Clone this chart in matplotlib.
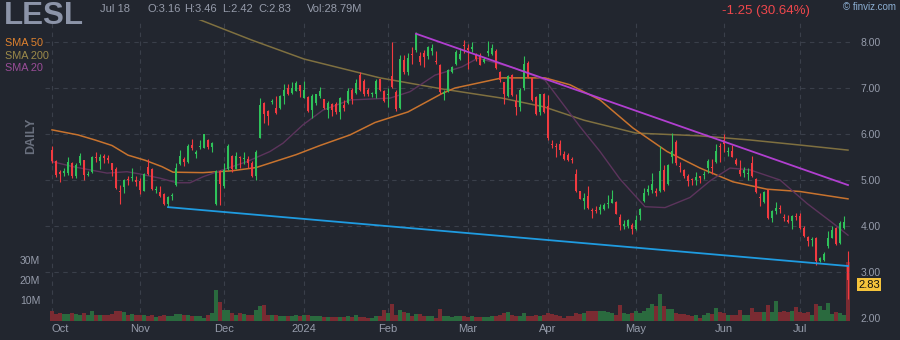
import matplotlib
matplotlib.use('Agg')
import matplotlib.pyplot as plt
import numpy as np
from matplotlib.transforms import blended_transform_factory

plt.rcParams['font.family'] = ['Liberation Sans', 'DejaVu Sans']

opens = [
5.66,5.41,5.18,5.15,5.16,5.38,5.09,5.38,5.43,5.11,
5.17,5.50,5.41,5.53,5.48,5.36,5.23,4.76,4.84,5.03,
5.04,5.01,4.98,4.77,5.29,5.23,4.78,4.74,4.69,4.48,
4.65,4.90,5.35,5.45,5.39,5.76,5.56,5.72,5.70,5.87,
5.72,4.48,5.20,4.86,5.24,5.52,5.24,5.50,5.45,5.46,
5.37,5.09,5.92,6.68,6.50,6.70,6.56,6.57,6.82,6.99,
6.90,6.94,7.06,6.79,6.81,6.52,6.68,6.83,6.76,6.52,
6.66,6.66,6.48,6.64,6.68,6.96,6.89,7.29,7.16,6.96,
6.86,6.86,7.19,6.94,6.84,7.26,6.91,6.57,7.60,7.35,
7.73,7.82,7.69,7.77,7.69,7.80,7.59,7.51,6.86,6.93,
7.35,7.53,7.62,7.94,7.87,7.84,7.72,7.71,7.57,7.77,
7.75,7.80,7.35,7.12,6.83,7.29,6.71,6.59,6.99,7.55,
7.22,6.80,6.48,6.87,6.60,5.79,5.74,5.78,5.56,5.55,
5.45,5.12,4.76,4.54,4.65,4.34,4.35,4.35,4.37,4.48,
4.50,4.53,4.20,4.01,4.01,4.02,3.93,4.25,4.54,4.73,
4.79,4.75,4.76,5.21,4.92,5.50,5.83,5.31,5.21,5.08,
5.01,5.01,5.08,5.11,5.26,5.28,5.39,5.73,5.86,5.61,
5.64,5.43,5.21,5.16,5.12,5.38,5.03,4.62,4.52,4.78,
4.17,4.32,4.40,4.19,4.14,4.10,4.21,4.21,3.96,3.76,
3.69,3.74,3.25,3.26,3.56,3.74,3.96,3.63,3.96,3.16]

closes = [
5.42,5.10,5.14,5.19,5.40,5.09,5.33,5.52,5.10,5.13,
5.50,5.48,5.50,5.48,5.43,5.22,4.83,4.73,4.99,5.00,
5.07,4.96,4.78,5.12,5.13,4.81,4.80,4.65,4.48,4.64,
4.68,5.26,5.52,5.39,5.74,5.69,5.61,5.74,5.99,5.72,
5.80,5.20,4.92,5.22,5.75,5.24,5.52,5.47,5.48,5.37,
5.09,5.60,6.64,6.43,6.39,6.71,6.45,6.82,6.95,6.88,
6.99,7.11,6.93,6.96,6.50,6.83,6.86,6.94,6.56,6.68,
6.52,6.48,6.78,6.56,6.94,6.77,7.11,6.96,6.86,6.86,
6.88,7.16,6.96,6.71,6.86,7.02,6.55,7.62,7.35,7.65,
7.72,8.18,7.57,7.67,7.89,7.87,7.57,6.91,6.91,7.40,
7.46,7.78,7.75,7.92,7.82,7.89,7.62,7.51,7.62,7.79,
7.86,7.43,7.17,6.86,7.26,6.84,6.59,6.96,7.53,7.24,
6.73,6.44,6.86,6.48,5.92,5.76,5.72,5.65,5.46,5.44,
5.43,4.76,4.59,4.61,4.40,4.32,4.33,4.42,4.46,4.50,
4.59,4.27,4.02,4.03,4.14,3.94,4.13,4.37,4.72,4.81,
4.92,4.72,5.19,4.78,5.33,5.62,5.38,5.28,5.08,4.97,
4.99,5.06,5.04,5.13,5.42,5.26,5.64,5.71,5.78,5.63,
5.51,5.34,5.12,5.21,5.14,5.09,4.75,4.60,4.73,4.17,
4.33,4.40,4.37,4.17,4.09,4.21,4.19,3.96,3.78,3.67,
3.71,3.24,3.30,3.40,3.74,3.92,3.60,4.06,4.09,2.83]

highs = [
5.74,5.43,5.22,5.26,5.50,5.40,5.36,5.59,5.43,5.20,
5.52,5.61,5.56,5.57,5.55,5.38,5.29,4.90,5.02,5.09,
5.27,5.08,5.04,5.15,5.45,5.25,4.86,4.86,4.72,4.65,
4.72,5.36,5.66,5.50,5.79,5.89,5.65,5.87,6.00,5.90,
5.82,5.22,5.22,5.38,5.78,5.54,5.60,5.53,5.60,5.52,
5.42,5.65,6.78,6.70,6.52,6.76,6.82,6.84,7.09,7.09,
7.13,7.15,7.07,7.16,6.82,6.86,6.88,7.02,6.77,6.71,
6.68,6.70,6.81,6.73,6.99,6.99,7.20,7.34,7.20,7.00,
6.91,7.19,7.20,6.95,6.99,7.99,6.95,7.72,7.71,7.76,
7.89,8.22,7.78,7.82,7.91,7.96,7.80,7.52,6.96,7.42,
7.48,7.82,7.86,8.04,7.96,8.00,7.76,7.75,7.67,8.02,
7.96,7.84,7.36,7.13,7.29,7.31,6.88,6.99,7.70,7.58,
7.24,6.82,6.88,6.90,6.85,5.87,5.80,5.86,5.64,5.58,
5.51,5.24,4.77,4.72,4.86,4.40,4.43,4.47,4.50,4.68,
4.78,4.54,4.25,4.14,4.16,4.07,4.23,4.40,4.83,4.90,
5.15,4.83,5.73,5.33,5.35,6.03,5.87,5.40,5.24,5.12,
5.04,5.17,5.09,5.19,5.45,5.45,5.78,5.81,6.00,5.71,
5.75,5.48,5.43,5.28,5.25,5.53,5.05,4.71,4.75,4.80,
4.35,4.52,4.46,4.27,4.24,4.24,4.28,4.28,3.99,3.78,
3.76,3.76,3.33,3.43,3.89,4.01,3.97,4.10,4.22,3.46]

lows = [
5.36,5.06,4.95,5.08,5.11,5.04,5.04,5.33,5.01,5.08,
5.15,5.40,5.23,5.36,5.36,5.08,4.81,4.48,4.71,4.90,
4.97,4.87,4.69,4.75,5.11,4.79,4.72,4.63,4.45,4.41,
4.57,4.88,5.33,5.30,5.38,5.66,5.47,5.68,5.69,5.68,
5.61,4.46,4.45,4.82,5.21,5.18,5.23,5.27,5.35,5.27,
5.07,4.99,5.91,6.23,6.20,6.65,6.43,6.54,6.66,6.84,
6.88,6.93,6.81,6.78,6.48,6.35,6.64,6.78,6.54,6.34,
6.40,6.43,6.33,6.50,6.66,6.66,6.86,6.94,6.83,6.83,
6.81,6.78,6.93,6.70,6.59,7.01,6.51,6.55,7.31,7.28,
7.53,7.78,7.49,7.46,7.62,7.71,7.53,6.86,6.73,6.91,
7.33,7.51,7.60,7.77,7.41,7.78,7.58,7.49,7.54,7.70,
7.71,7.42,7.13,6.66,6.81,6.83,6.42,6.51,6.95,7.22,
6.71,6.42,6.41,6.45,5.88,5.69,5.51,5.55,5.44,5.41,
5.37,4.73,4.58,4.38,4.37,4.18,4.29,4.25,4.35,4.40,
4.49,4.25,3.91,3.94,3.96,3.82,3.91,4.13,4.52,4.68,
4.72,4.65,4.74,4.76,4.90,5.37,5.33,5.17,5.04,4.88,
4.89,4.90,4.94,5.02,5.15,5.14,5.37,5.40,5.61,5.52,
5.50,5.32,5.09,5.07,5.00,5.07,4.71,4.44,4.49,4.16,
4.09,4.26,4.28,4.10,4.06,3.94,4.14,3.94,3.76,3.56,
3.56,3.15,3.22,3.23,3.53,3.73,3.58,3.60,3.94,2.42]

volumes = [
4.7,3.5,4.0,3.2,3.5,4.0,3.5,2.7,4.0,2.8,
4.7,2.8,3.0,2.8,2.7,3.5,4.7,5.0,4.5,3.0,
3.2,3.0,3.0,3.0,2.5,3.0,1.8,2.2,3.0,2.5,
2.5,3.5,3.5,2.7,3.0,2.5,2.5,2.5,1.3,3.0,
4.0,15.0,9.3,5.5,5.5,3.8,3.0,3.8,3.3,3.0,
3.0,5.2,7.5,8.0,3.0,3.0,2.8,2.5,2.2,2.5,
2.5,2.8,2.5,2.8,2.8,2.5,2.2,2.2,2.0,2.0,
2.0,2.0,2.0,2.0,2.2,2.0,2.8,2.0,2.0,1.7,
1.3,2.5,2.5,5.5,3.8,8.5,3.0,5.5,4.3,3.8,
2.5,3.5,3.3,2.5,2.2,2.5,1.7,6.0,2.5,2.2,
1.8,2.5,2.2,2.5,1.8,2.5,1.8,1.8,1.8,1.8,
2.2,2.5,3.0,3.8,4.3,3.0,2.5,2.5,3.8,2.5,
2.5,3.0,2.5,3.0,3.8,3.3,2.7,2.2,1.7,2.2,
2.2,3.8,3.3,3.8,5.0,4.7,4.7,4.7,4.7,4.3,
3.8,2.7,8.0,3.8,3.3,3.8,5.0,3.8,4.7,6.3,
8.3,7.2,13.3,7.2,6.0,6.0,3.8,3.3,3.3,2.7,
2.2,3.0,1.7,3.0,3.8,3.3,6.3,4.3,3.8,3.0,
3.0,3.0,5.5,3.0,3.0,6.3,4.2,4.2,4.2,8.0,
4.2,10.0,4.2,4.7,4.2,4.7,6.8,4.2,3.8,4.2,
3.0,8.5,7.2,5.5,8.8,3.5,4.5,3.8,3.0,28.79]

month_idx = [0, 22, 43, 63, 84, 104, 124, 146, 168, 187]
month_labels = ['Oct', 'Nov', 'Dec', '2024', 'Feb', 'Mar', 'Apr', 'May', 'Jun', 'Jul']
price_ticks = [2, 3, 4, 5, 6, 7, 8]
vol_ticks = [10, 20, 30]
vol_tick_labels = ['10M', '20M', '30M']

sma20_idx = [0, 5.25, 13.75, 18.75, 22, 27, 31.25, 34.5, 37.75, 42, 48.75, 54.5, 57.75, 62.75,
             67.75, 74.5, 84.5, 89.5, 95.75, 102.5, 106.5, 115.75, 123.25, 132, 137, 142,
             148.25, 153.25, 159.5, 164.5, 169.5, 174.5, 182, 188.75, 195.25, 199]
sma20_val = [5.40, 5.29, 5.15, 5.18, 5.13, 5.04, 4.94, 4.94, 5.07, 5.20, 5.40, 5.62, 5.80, 6.20,
             6.52, 6.74, 6.78, 6.92, 7.28, 7.46, 7.65, 7.43, 7.17, 6.16, 5.62, 5.02,
             4.42, 4.40, 4.62, 4.98, 5.26, 5.22, 5.00, 4.49, 4.06, 3.80]

sma50_idx = [0, 6.5, 10.75, 15, 19, 23.25, 27.5, 30.25, 37.75, 45, 51, 61, 67, 74.5, 80.75, 89,
             97.5, 100.75, 108.25, 112.5, 123.25, 129.5, 137, 145.25, 153.75, 162, 170.25,
             178.75, 187, 199]
sma50_val = [6.09, 5.98, 5.87, 5.75, 5.54, 5.43, 5.29, 5.17, 5.16, 5.20, 5.27, 5.55, 5.75, 5.98,
             6.25, 6.48, 6.88, 7.00, 7.14, 7.22, 7.22, 7.07, 6.74, 6.13, 5.62, 5.26, 4.96,
             4.80, 4.75, 4.59]

sma200_idx = [35, 50, 63, 82, 97.5, 112.5, 123, 133, 146, 162, 174.5, 187, 199]
sma200_val = [8.55, 8.04, 7.63, 7.22, 6.98, 6.78, 6.59, 6.30, 6.02, 5.96, 5.87, 5.76, 5.65]

support_idx = [29, 199]
support_val = [4.41, 3.13]
resist_idx = [91, 199]
resist_val = [8.18, 4.89]

last_price = 2.83

# ---------- style ----------
BG = '#22262f'
GRID = '#3a3f4a'
TXT = '#969cab'
UP = '#2fc25a'
DOWN = '#f23a40'
VUP = '#2a6a3e'
VDOWN = '#7a2b32'

W, H = 900, 340
fig = plt.figure(figsize=(W / 100, H / 100), dpi=100, facecolor=BG)

L, R, T, B = 45, 852, 20, 321
rect = [L / W, 1 - B / H, (R - L) / W, (B - T) / H]
xmin = -1.75
xmax = xmin + (R - L) / 4.0
ymax_p = 8 + (42 - T) / 46.0
ymin_p = 8 - (B - 42) / 46.0

# volume axes (background)
axv = fig.add_axes(rect, facecolor=BG)
axv.set_zorder(0)
n = len(closes)
x = np.arange(n)
O = np.array(opens); C = np.array(closes); Hh = np.array(highs); Ll = np.array(lows)
up = C >= O
axv.bar(x, volumes, width=0.85, color=[VUP if u else VDOWN for u in up], linewidth=0)
axv.set_xlim(xmin, xmax)
axv.set_ylim(0, (B - T) / 2.05)
axv.set_xticks(month_idx)
axv.set_xticklabels([])
axv.tick_params(axis='x', length=0)
axv.grid(axis='x', color=GRID, linestyle=(0, (4, 4)), linewidth=0.8)
axv.set_axisbelow(True)
axv.set_yticks(vol_ticks)
axv.set_yticklabels(vol_tick_labels)
axv.tick_params(axis='y', length=0, pad=3.5, labelsize=7.5, labelcolor=TXT)
for s in axv.spines.values():
    s.set_visible(False)

# price axes (foreground)
ax = fig.add_axes(rect)
ax.set_zorder(1)
ax.patch.set_alpha(0)
ax.set_xlim(xmin, xmax)
ax.set_ylim(ymin_p, ymax_p)
ax.set_yticks(price_ticks)
ax.set_yticklabels(['%.2f' % p for p in price_ticks])
ax.yaxis.tick_right()
ax.tick_params(axis='y', length=0, pad=6, labelsize=7.5, labelcolor=TXT)
ax.set_xticks(month_idx)
ax.set_xticklabels(month_labels)
ax.tick_params(axis='x', length=0, pad=2, labelsize=8, labelcolor=TXT)
for lbl in ax.get_xticklabels():
    if lbl.get_text() == 'Oct':
        lbl.set_ha('left')
ax.grid(axis='y', color=GRID, linestyle=(0, (4, 4)), linewidth=0.8)
ax.yaxis.get_gridlines()[0].set_visible(False)
ax.set_axisbelow(True)
for s in ax.spines.values():
    s.set_visible(False)

# moving averages
ax.plot(sma200_idx, sma200_val, color='#7f7040', linewidth=1.1, zorder=2)
ax.plot(sma50_idx, sma50_val, color='#c8732e', linewidth=1.1, zorder=2)
ax.plot(sma20_idx, sma20_val, color='#5c345c', linewidth=1.0, zorder=2)

# candles
cols = [UP if u else DOWN for u in up]
ax.vlines(x, Ll, Hh, colors=cols, linewidth=0.8, zorder=3)
body_b = np.minimum(O, C)
body_h = np.maximum(np.abs(C - O), 0.025)
ax.bar(x, body_h, bottom=body_b, width=0.72, color=cols, linewidth=0, zorder=4)

# trend lines
ax.plot(support_idx, support_val, color='#1f9be0', linewidth=1.3, zorder=5)
ax.plot(resist_idx, resist_val, color='#b13fd0', linewidth=1.3, zorder=5)

# last price tag (nudged slightly below so the 3.00 label stays readable)
tr = blended_transform_factory(ax.transAxes, ax.transData)
ax.annotate('%.2f' % last_price, xy=(1 + 6 / (R - L), last_price), xycoords=tr,
            xytext=(0, -3.5), textcoords='offset points', ha='left', va='center',
            fontsize=8, color='#111111', zorder=10, annotation_clip=False,
            bbox=dict(boxstyle='square,pad=0.12', fc='#f5c33b', ec='none'))

def fx(px):
    return px / W

def fy(py):
    return 1 - py / H

fig.text(fx(4), fy(16), 'LESL', fontsize=22.5, fontweight='bold', color='#8c94a8', va='center', ha='left')
fig.text(fx(100), fy(9), 'Jul 18', fontsize=8, color=TXT, va='center', ha='left')
fig.text(fx(147), fy(9), 'O:3.16', fontsize=8, color=TXT, va='center', ha='left')
fig.text(fx(184), fy(9), 'H:3.46', fontsize=8, color=TXT, va='center', ha='left')
fig.text(fx(222), fy(9), 'L:2.42', fontsize=8, color=TXT, va='center', ha='left')
fig.text(fx(258), fy(9), 'C:2.83', fontsize=8, color=TXT, va='center', ha='left')
fig.text(fx(307), fy(9), 'Vol:28.79M', fontsize=8, color=TXT, va='center', ha='left')
fig.text(fx(722), fy(11), '-1.25 (30.64%)', fontsize=9.5, color='#f0474c', va='center', ha='left')
fig.text(fx(896), fy(7), '\u00a9 finviz.com', fontsize=7, color='#8db0d4', va='center', ha='right')
fig.text(fx(5), fy(43), 'SMA 50', fontsize=7.8, color='#e0822e', va='center', ha='left')
fig.text(fx(5), fy(56), 'SMA 200', fontsize=7.8, color='#9c8a4a', va='center', ha='left')
fig.text(fx(5), fy(68), 'SMA 20', fontsize=7.8, color='#9a4d98', va='center', ha='left')
fig.text(fx(31), fy(136), 'DAILY', fontsize=9, fontweight='bold', color='#6a707e', rotation=90,
         va='center', ha='center')

fig.savefig('out.png', dpi=100, facecolor=BG)
